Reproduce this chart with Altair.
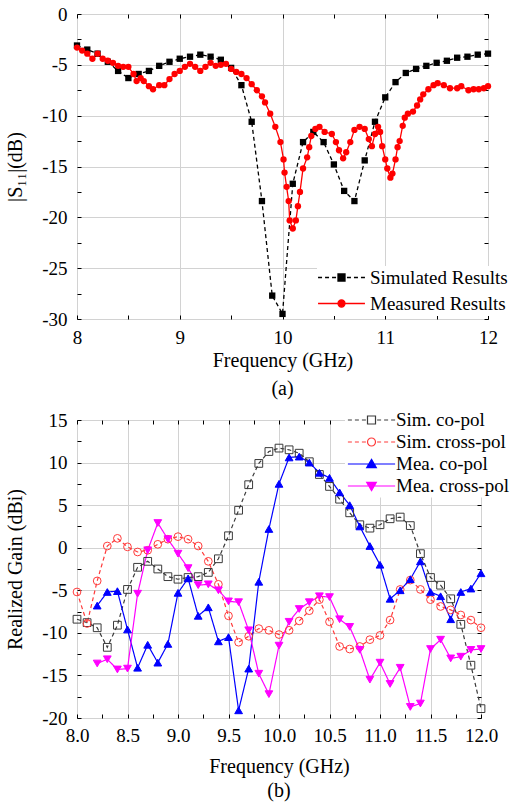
import altair as alt
import pandas as pd

FONT = "Liberation Serif"

# ---------------- panel (a): |S11| ----------------
s11_names = ["Simulated Results", "Measured Results"]
s11_colors = ["#000000", "#ff0000"]

sim_freq = [8.0, 8.1, 8.2, 8.3, 8.4, 8.5, 8.6, 8.7, 8.8, 8.9, 9.0, 9.1, 9.2, 9.3,
            9.4, 9.5, 9.6, 9.7, 9.8, 9.9, 10.0, 10.1, 10.2, 10.3, 10.4, 10.5, 10.6,
            10.7, 10.8, 10.9, 11.0, 11.1, 11.2, 11.3, 11.4, 11.5, 11.6, 11.7, 11.8,
            11.9, 12.0]
sim_s11 = [-3.1, -3.5, -3.9, -4.7, -5.6, -6.3, -5.9, -5.6, -5.1, -4.7, -4.4, -4.2,
           -4.0, -4.2, -4.5, -5.3, -7.0, -10.6, -18.4, -27.7, -29.5, -16.7, -12.6,
           -11.6, -12.6, -14.8, -17.4, -18.4, -14.4, -10.6, -8.2, -6.7, -5.8, -5.4,
           -5.1, -4.8, -4.6, -4.3, -4.2, -4.0, -3.9]

meas_freq = [8.00, 8.05, 8.10, 8.15, 8.20, 8.25, 8.30, 8.35, 8.40, 8.45, 8.50, 8.55,
             8.58, 8.62, 8.65, 8.70, 8.74, 8.80, 8.85, 8.90, 8.95, 9.00, 9.05, 9.10,
             9.15, 9.20, 9.25, 9.30, 9.35, 9.40, 9.45, 9.50, 9.55, 9.60, 9.65, 9.70,
             9.75, 9.80, 9.83, 9.88, 9.93, 9.98, 10.01, 10.02, 10.04, 10.06, 10.07,
             10.10, 10.13, 10.15, 10.17, 10.20, 10.24, 10.26, 10.28, 10.32, 10.36,
             10.41, 10.48, 10.52, 10.55, 10.59, 10.62, 10.66, 10.70, 10.75, 10.80,
             10.84, 10.87, 10.90, 10.93, 10.95, 10.97, 11.00, 11.02, 11.05, 11.07,
             11.10, 11.12, 11.14, 11.17, 11.19, 11.22, 11.27, 11.31, 11.34, 11.37,
             11.42, 11.47, 11.51, 11.57, 11.63, 11.70, 11.74, 11.81, 11.86, 11.91,
             11.96, 12.00]
meas_s11 = [-3.3, -3.6, -3.9, -4.4, -3.9, -4.4, -4.6, -4.8, -5.1, -5.2, -5.2, -5.9,
            -6.6, -6.3, -6.6, -7.1, -7.4, -7.0, -7.0, -6.4, -5.9, -5.6, -5.2, -4.9,
            -5.2, -5.6, -5.2, -4.8, -5.1, -5.0, -4.9, -5.4, -5.7, -5.9, -6.3, -6.9,
            -7.5, -8.1, -8.7, -9.8, -11.1, -12.6, -14.3, -15.6, -17.0, -18.4, -20.3,
            -21.1, -20.3, -18.9, -17.5, -15.2, -14.1, -13.1, -12.0, -11.3, -11.1,
            -11.6, -11.8, -12.6, -13.4, -14.2, -13.6, -12.6, -11.4, -11.1, -11.3,
            -12.3, -13.0, -11.8, -11.1, -11.6, -13.0, -14.3, -15.2, -16.1, -15.7,
            -14.3, -13.1, -12.5, -11.0, -10.2, -9.8, -9.6, -9.0, -8.4, -7.9,
            -7.4, -7.0, -6.8, -7.0, -7.3, -7.3, -7.1, -7.5, -7.4, -7.4,
            -7.3, -7.1]

s11_xticks = [8, 8.5, 9, 9.5, 10, 10.5, 11, 11.5, 12]
s11_yticks = [-30, -27.5, -25, -22.5, -20, -17.5, -15, -12.5, -10, -7.5, -5, -2.5, 0]

# ---------------- panel (b): realized gain ----------------
gain_names = ["Sim. co-pol", "Sim. cross-pol", "Mea. co-pol", "Mea. cross-pol"]
gain_colors = ["#3a3a3a", "#ff3b3b", "#0000ff", "#ff00ff"]
gain_fills = ["transparent", "transparent", "#0000ff", "#ff00ff"]
gain_shapes = ["square", "circle", "triangle-up", "triangle-down"]

sim_freq_b = [8.0, 8.1, 8.2, 8.3, 8.4, 8.5, 8.6, 8.7, 8.8, 8.9, 9.0, 9.1, 9.2, 9.3,
              9.4, 9.5, 9.6, 9.7, 9.8, 9.9, 10.0, 10.1, 10.2, 10.3, 10.4, 10.5, 10.6,
              10.7, 10.8, 10.9, 11.0, 11.1, 11.2, 11.3, 11.4, 11.5, 11.6, 11.7, 11.8,
              11.9, 12.0]
sim_co = [-8.4, -8.8, -9.4, -11.7, -9.1, -4.9, -2.3, -1.6, -2.5, -3.4, -3.7, -3.5,
          -3.4, -2.9, -1.3, 1.4, 4.4, 7.4, 9.9, 11.3, 11.7, 11.5, 11.1, 10.1, 8.6,
          7.2, 5.7, 4.1, 2.7, 2.3, 2.7, 3.4, 3.6, 2.6, -0.7, -3.5, -4.4, -6.0, -9.0,
          -13.8, -18.9]
sim_cross = [-5.2, -8.9, -3.9, 0.2, 1.1, 0.1, -0.5, -0.3, 0.4, 1.0, 1.3, 1.0, 0.2,
             -1.6, -4.3, -8.0, -11.1, -10.4, -9.5, -9.7, -10.2, -9.7, -8.6, -7.4,
             -6.1, -8.7, -11.6, -11.9, -11.6, -10.8, -10.3, -8.5, -4.9, -3.8, -4.9,
             -6.1, -6.9, -7.3, -7.9, -8.5, -9.4]

mea_freq_b = [8.2, 8.3, 8.4, 8.5, 8.6, 8.7, 8.8, 8.9, 9.0, 9.1, 9.2, 9.3, 9.4, 9.5,
              9.6, 9.7, 9.8, 9.9, 10.0, 10.1, 10.2, 10.3, 10.4, 10.5, 10.6, 10.7,
              10.8, 10.9, 11.0, 11.1, 11.2, 11.3, 11.4, 11.5, 11.6, 11.7, 11.8, 11.9,
              12.0]
mea_co = [-6.8, -5.2, -5.1, -9.6, -14.1, -11.4, -13.5, -11.3, -5.3, -3.6, -8.0, -7.0,
          -11.0, -10.5, -19.1, -14.2, -4.0, 2.2, 7.5, 10.6, 10.7, 10.0, 8.8, 8.2, 6.5,
          5.0, 2.5, 0.2, -2.0, -6.0, -5.0, -3.7, -1.6, -5.2, -5.7, -8.4, -5.2, -4.8,
          -3.0]
mea_cross = [-13.6, -13.1, -14.3, -14.2, -5.4, -0.3, 2.9, 1.0, -0.7, -2.4, -4.4, -4.3,
             -5.0, -6.3, -6.4, -9.7, -14.8, -17.2, -11.5, -8.7, -7.2, -6.4, -5.7, -5.8,
             -8.4, -9.3, -12.0, -15.5, -13.5, -16.0, -14.1, -18.7, -18.3, -11.9, -10.8,
             -13.0, -12.8, -12.0, -11.9]

gain_xticks = [8, 8.25, 8.5, 8.75, 9, 9.25, 9.5, 9.75, 10, 10.25, 10.5, 10.75, 11,
               11.25, 11.5, 11.75, 12]
gain_yticks = [-20, -17.5, -15, -12.5, -10, -7.5, -5, -2.5, 0, 2.5, 5, 7.5, 10, 12.5, 15]

# ---------------- legend symbols (line + marker, drawn as custom paths) ----------------
DASH_A = "M-6.7,0L-5.56,0M-4.7,0L-3.56,0M-2.7,0L-1.56,0M1.56,0L2.7,0M3.56,0L4.7,0M5.56,0L6.7,0"
PATHS_A = [DASH_A + "M-1,-1L1,-1L1,1L-1,1Z",
           "M-6.7,0L6.7,0M1,0A1,1,0,1,1,-1,0A1,1,0,1,1,1,0Z"]
DASH_B = "M-5.9,0L-4.9,0M-4.15,0L-3.15,0M-2.4,0L-1.4,0M1.4,0L2.4,0M3.15,0L4.15,0M4.9,0L5.9,0"
PATHS_B = [DASH_B + "M-1,-1L1,-1L1,1L-1,1Z",
           DASH_B + "M1,0A1,1,0,1,1,-1,0A1,1,0,1,1,1,0Z",
           "M-5.9,0L5.9,0M0,-1.15L1.2,0.9L-1.2,0.9Z",
           "M-5.9,0L5.9,0M0,1.15L1.2,-0.9L-1.2,-0.9Z"]


def ax_main(orient, values, step, title, label_expr, label_pad, title_pad):
    minor = f"abs(datum.value / {step} - round(datum.value / {step})) > 0.001"
    return alt.Axis(
        orient=orient, values=values,
        labelExpr=f"({minor}) ? '' : {label_expr}",
        offset=-4, tickSize=4, tickColor="black", tickWidth=1, domain=False,
        grid=True, gridColor="#d2d2d2", gridWidth=1,
        gridOpacity={"condition": {"test": minor, "value": 0}, "value": 1},
        labelFont=FONT, labelFontSize=19, labelColor="black", labelPadding=label_pad,
        labelFlush=False, labelOverlap=False,
        title=title, titleFont=FONT, titleFontSize=20, titleFontWeight="normal",
        titleColor="black", titlePadding=title_pad)


def ax_frame(orient, values):
    return alt.Axis(orient=orient, values=values, labels=False, offset=-4, tickSize=4,
                    tickColor="black", tickWidth=1, domain=False, grid=False, title=None,
                    minExtent=0, maxExtent=0)


def long_df(freqs, vals, names):
    parts = [pd.DataFrame({"f": f, "v": v, "s": n}) for f, v, n in zip(freqs, vals, names)]
    return pd.concat(parts, ignore_index=True)


# ---------- panel (a) ----------
df_a = long_df([sim_freq, meas_freq], [sim_s11, meas_s11], s11_names)
null_a = pd.DataFrame({"f": [None] * 2, "v": [None] * 2, "s": s11_names})
xs_a = alt.Scale(domain=[8, 12], nice=False, zero=False)
ys_a = alt.Scale(domain=[-30, 0], nice=False, zero=False)
col_a = alt.Color("s:N", scale=alt.Scale(domain=s11_names, range=s11_colors), legend=None)

lines_a = alt.Chart(df_a).mark_line(strokeWidth=1.3).encode(
    x=alt.X("f:Q", scale=xs_a,
            axis=ax_main("bottom", s11_xticks, 1, "Frequency (GHz)", "toString(datum.value)", 9, 3)),
    y=alt.Y("v:Q", scale=ys_a,
            axis=ax_main("left", s11_yticks, 5, "|S\u2081\u2081|(dB)", "toString(datum.value)", 10, 16)),
    color=col_a,
    strokeDash=alt.StrokeDash("s:N", scale=alt.Scale(domain=s11_names, range=[[4, 3], [1, 0]]),
                              legend=None),
)
points_a = alt.Chart(df_a).mark_point(filled=True, size=40, opacity=1).encode(
    x=alt.X("f:Q", scale=xs_a, axis=None),
    y=alt.Y("v:Q", scale=ys_a, axis=None),
    color=col_a,
    shape=alt.Shape("s:N", scale=alt.Scale(domain=s11_names, range=["square", "circle"]),
                    legend=None),
)
leg_a = alt.Legend(title=None, orient="none", legendX=240, legendY=252,
                   labelFont=FONT, labelFontSize=19, labelColor="black",
                   symbolSize=49, symbolStrokeWidth=1.3, symbolOpacity=1,
                   labelOffset=19, symbolOffset=13, rowPadding=6,
                   fillColor="white", padding=2, labelLimit=0)
frame_a = alt.Chart(null_a).mark_point().encode(
    x=alt.X("f:Q", scale=xs_a, axis=ax_frame("top", s11_xticks)),
    y=alt.Y("v:Q", scale=ys_a, axis=ax_frame("right", s11_yticks)),
    stroke=alt.Stroke("s:N", scale=alt.Scale(domain=s11_names, range=s11_colors), legend=leg_a),
    fill=alt.Fill("s:N", scale=alt.Scale(domain=s11_names, range=s11_colors), legend=leg_a),
    shape=alt.Shape("s:N", scale=alt.Scale(domain=s11_names, range=PATHS_A), legend=leg_a),
)
panel_a = alt.layer(lines_a, points_a, frame_a).resolve_axis(
    x="independent", y="independent"
).resolve_scale(shape="independent", stroke="independent", fill="independent").properties(
    width=411, height=305,
    title=alt.TitleParams("(a)", orient="bottom", font=FONT, fontSize=20,
                          fontWeight="normal", color="black", offset=9),
)

# ---------- panel (b) ----------
df_b = long_df([sim_freq_b, sim_freq_b, mea_freq_b, mea_freq_b],
               [sim_co, sim_cross, mea_co, mea_cross], gain_names)
null_b = pd.DataFrame({"f": [None] * 4, "v": [None] * 4, "s": gain_names})
xs_b = alt.Scale(domain=[8, 12], nice=False, zero=False)
ys_b = alt.Scale(domain=[-20, 15], nice=False, zero=False)

lines_b = alt.Chart(df_b).mark_line(strokeWidth=1.2).encode(
    x=alt.X("f:Q", scale=xs_b,
            axis=ax_main("bottom", gain_xticks, 0.5, "Frequency (GHz)",
                         "format(datum.value, '.1f')", 8, 11)),
    y=alt.Y("v:Q", scale=ys_b,
            axis=ax_main("left", gain_yticks, 5, "Realized Gain (dBi)",
                         "toString(datum.value)", 10, 16)),
    color=alt.Color("s:N", scale=alt.Scale(domain=gain_names, range=gain_colors), legend=None),
    strokeDash=alt.StrokeDash("s:N", scale=alt.Scale(domain=gain_names,
                                                     range=[[4, 3], [4, 3], [1, 0], [1, 0]]),
                              legend=None),
)
points_b = alt.Chart(df_b).mark_point(size=60, strokeWidth=1, opacity=1).encode(
    x=alt.X("f:Q", scale=xs_b, axis=None),
    y=alt.Y("v:Q", scale=ys_b, axis=None),
    stroke=alt.Stroke("s:N", scale=alt.Scale(domain=gain_names, range=gain_colors), legend=None),
    fill=alt.Fill("s:N", scale=alt.Scale(domain=gain_names, range=gain_fills), legend=None),
    shape=alt.Shape("s:N", scale=alt.Scale(domain=gain_names, range=gain_shapes), legend=None),
)
leg_b = alt.Legend(title=None, orient="none", legendX=268, legendY=-10.5,
                   labelFont=FONT, labelFontSize=19, labelColor="black",
                   symbolSize=64, symbolStrokeWidth=1.2, symbolOpacity=1,
                   labelOffset=15, symbolOffset=16, rowPadding=2,
                   fillColor="white", padding=1, labelLimit=0)
frame_b = alt.Chart(null_b).mark_point().encode(
    x=alt.X("f:Q", scale=xs_b, axis=ax_frame("top", gain_xticks)),
    y=alt.Y("v:Q", scale=ys_b, axis=ax_frame("right", gain_yticks)),
    stroke=alt.Stroke("s:N", scale=alt.Scale(domain=gain_names, range=gain_colors), legend=leg_b),
    fill=alt.Fill("s:N", scale=alt.Scale(domain=gain_names, range=gain_fills), legend=leg_b),
    shape=alt.Shape("s:N", scale=alt.Scale(domain=gain_names, range=PATHS_B), legend=leg_b),
)
panel_b = alt.layer(lines_b, points_b, frame_b).resolve_axis(
    x="independent", y="independent"
).resolve_scale(shape="independent", stroke="independent", fill="independent").properties(
    width=404, height=298,
    title=alt.TitleParams("(b)", orient="bottom", font=FONT, fontSize=20,
                          fontWeight="normal", color="black", offset=5),
)

chart = alt.vconcat(panel_a, panel_b, spacing=9).resolve_scale(
    color="independent", strokeDash="independent", shape="independent",
    stroke="independent", fill="independent"
).properties(
    padding={"left": 5, "top": 4, "right": 0, "bottom": 0}, background="white"
).configure_view(stroke="black", strokeWidth=1)

chart.save("out.html", embed_options={"renderer": "svg", "actions": False})
